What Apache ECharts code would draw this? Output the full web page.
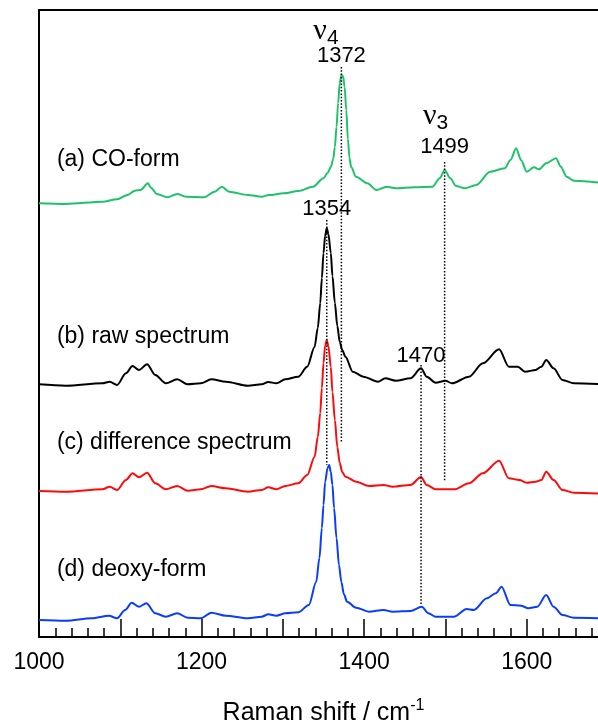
<!DOCTYPE html>
<html>
<head>
<meta charset="utf-8">
<script src="https://cdn.jsdelivr.net/npm/echarts/dist/echarts.min.js"></script>
<style>
  html, body { margin: 0; padding: 0; background: #fff; }
  #chart { width: 598px; height: 727px; }
</style>
</head>
<body>
<div id="chart"></div>
<script>
// Raman shift (cm-1) and relative intensity of each spectrum
const coX = [1000, 1033, 1078, 1096, 1109, 1118, 1125, 1134, 1138, 1145, 1158, 1170, 1181, 1203, 1216, 1225, 1234, 1257, 1274, 1283, 1301, 1319, 1337, 1350, 1355, 1359, 1362, 1364, 1366, 1368, 1370, 1372, 1374, 1376, 1378, 1380, 1382, 1384, 1390, 1404, 1415, 1428, 1439, 1462, 1484, 1493, 1499, 1506, 1513, 1524, 1538, 1555, 1573, 1580, 1587, 1593, 1600, 1609, 1615, 1624, 1636, 1642, 1649, 1658, 1700];
const coI = [1.7, 1, 3.3, 5.7, 10, 14.3, 15, 21.7, 17, 11, 7.7, 11, 8.3, 7.7, 13.3, 18.3, 13.3, 10, 8.3, 10, 11.7, 14, 18.3, 26.7, 32, 38, 46, 58, 78, 102, 122, 130, 129, 118, 95, 66, 47, 38, 28.3, 21.7, 15, 18.3, 16.7, 17.7, 18.3, 26.7, 35, 26.7, 19, 16.7, 20, 33.3, 36.7, 45, 56.7, 45, 33.3, 37.7, 35.7, 41.7, 46.7, 38.3, 28.3, 24.3, 21.5];

const rawX = [1000, 1033, 1078, 1087, 1096, 1107, 1115, 1123, 1133, 1143, 1156, 1170, 1183, 1199, 1212, 1230, 1257, 1274, 1282, 1292, 1303, 1319, 1330, 1339, 1343, 1346, 1348, 1350, 1352, 1354, 1356, 1359, 1361, 1364, 1367, 1370, 1373, 1377, 1386, 1399, 1417, 1426, 1439, 1457, 1470, 1477, 1488, 1500, 1508, 1529, 1546, 1566, 1578, 1589, 1598, 1611, 1618, 1624, 1633, 1644, 1658, 1700];
const rawI = [1.7, 0.3, 2.7, 4.3, 1, 12.7, 20, 16, 21.7, 11, 2.7, 6.7, 1.7, 2.7, 6.7, 4.3, 0.3, 1.7, 4, 2.7, 6.7, 9.3, 19.3, 39, 58, 83, 108, 133, 150, 158, 152, 133, 110, 83, 60, 44, 36, 29.3, 14.3, 9.3, 4.3, 7.7, 5.3, 7.7, 17.7, 9.3, 3.3, 5.3, 2.7, 9.3, 22.7, 36.7, 19.3, 19.3, 14.3, 16, 19.3, 26, 17.7, 6, 2.7, 1.5];

const diffX = [1000, 1033, 1078, 1087, 1096, 1107, 1115, 1123, 1133, 1143, 1156, 1170, 1183, 1199, 1212, 1230, 1257, 1274, 1282, 1292, 1303, 1319, 1330, 1339, 1343, 1346, 1348, 1350, 1352, 1354, 1356, 1359, 1361, 1364, 1367, 1370, 1373, 1377, 1390, 1406, 1424, 1435, 1457, 1470, 1477, 1488, 1511, 1529, 1546, 1566, 1578, 1591, 1600, 1611, 1618, 1624, 1633, 1644, 1658, 1700];
const diffI = [1, 0.3, 2.7, 5.3, 2, 12, 18.7, 14.7, 19.3, 8.7, 2.7, 6, 1.3, 2.7, 6, 3.7, 0.3, 2, 4.7, 2.7, 6, 8.7, 17, 35, 55, 79, 104, 129, 146, 152, 146, 125, 100, 72, 45, 29, 20, 15.3, 10.3, 6, 7, 5.3, 7, 15, 7, 2.7, 2.7, 8.7, 18.7, 31.3, 13.7, 12, 9.3, 10.3, 12, 20.3, 12, 2, -0.7, -2];

const deoxyX = [1000, 1033, 1065, 1086, 1096, 1106, 1114, 1123, 1132, 1143, 1156, 1170, 1183, 1199, 1212, 1230, 1257, 1274, 1282, 1292, 1303, 1319, 1332, 1341, 1345, 1348, 1350, 1352, 1355, 1357, 1359, 1361, 1363, 1366, 1369, 1372, 1375, 1379, 1390, 1406, 1424, 1435, 1457, 1471, 1479, 1488, 1511, 1526, 1535, 1551, 1562, 1569, 1580, 1593, 1602, 1613, 1624, 1633, 1644, 1658, 1700];
const deoxyI = [0, -0.7, 1.7, 4.3, 1.7, 10, 17.3, 13.3, 16.7, 6.7, 3.3, 6.7, 2.3, 1.7, 7.3, 4.3, 1.7, 3.3, 5.7, 4.3, 6.7, 7.7, 15, 38, 62, 92, 115, 138, 152, 155, 148, 135, 112, 82, 55, 38, 26, 18.3, 12.3, 8.3, 10, 8.3, 9, 13.3, 6.7, 3.3, 3.3, 11, 10, 21.7, 26.7, 33.3, 15, 14.3, 11.7, 13.3, 25, 13.3, 5, 2.3, 1.5];

const spectrumNames = ['(a) CO-form', '(b) raw spectrum', '(c) difference spectrum', '(d) deoxy-form'];
const bandPositions = [1372, 1499, 1354, 1470];
const bandModes = [{ band: 1372, mode: '4' }, { band: 1499, mode: '3' }];
const xTickLabels = [1000, 1200, 1400, 1600];

// ---- layout of the stacked plot ----
const spectraX = [coX, rawX, diffX, deoxyX];
const spectraI = [coI, rawI, diffI, deoxyI];
const colors = ['#1ec26a', '#000000', '#ff0a0a', '#0a3cff'];
const baselineOffsets = [432, 251, 145, 17];
const nameAnchorsY = [477, 300, 194, 67];
const nameAnchorX = 1022;
// dotted guide for each band: [top, bottom, label height]
const guideSpans = [[570, 194, 581], [475, 155, 490], [417, 172, 428], [272, 32, 281]];
const modeLabelY = { 1372: 606, 1499: 521 };
const modeLabelX = { 1372: 1353, 1499: 1488 };

const font = 'Liberation Sans, Arial, sans-serif';
const ink = '#000';
const series = [];

spectraX.forEach((xs, k) => {
  series.push({
    type: 'line',
    data: xs.map((x, i) => [x, baselineOffsets[k] + spectraI[k][i]]),
    showSymbol: false,
    smooth: 0.3,
    smoothMonotone: 'x',
    lineStyle: { color: colors[k], width: 2 },
    z: 3,
    silent: true
  });
});

bandPositions.forEach((b, k) => {
  const span = guideSpans[k];
  series.push({
    type: 'line',
    data: [[b, span[0]], [b, span[1]]],
    showSymbol: false,
    lineStyle: { color: '#000', width: 1.5, type: [1.5, 1.8] },
    z: 5,
    silent: true
  });
  series.push({
    type: 'scatter',
    data: [[b, span[2]]],
    symbolSize: 0,
    itemStyle: { opacity: 1 },
    label: {
      show: true, position: 'inside', formatter: String(b),
      fontSize: 22, fontFamily: font, color: ink
    },
    z: 6,
    silent: true
  });
});

bandModes.forEach(m => {
  series.push({
    type: 'scatter',
    data: [[modeLabelX[m.band], modeLabelY[m.band]]],
    symbolSize: 0,
    itemStyle: { opacity: 1 },
    label: {
      show: true, position: 'inside',
      formatter: '{n|\u03BD}{s|' + m.mode + '}',
      rich: {
        n: { fontSize: 30, fontFamily: 'Liberation Serif, Times New Roman, serif', color: ink },
        s: { fontSize: 21, fontFamily: font, color: ink, padding: [14, 0, 0, 0] }
      }
    },
    z: 6,
    silent: true
  });
});

series.push({
  type: 'scatter',
  data: nameAnchorsY.map(y => [nameAnchorX, y]),
  symbolSize: 0,
  itemStyle: { opacity: 1 },
  label: {
    show: true, position: 'inside', align: 'left', verticalAlign: 'middle',
    formatter: p => spectrumNames[p.dataIndex],
    fontSize: 23, fontFamily: font, color: ink
  },
  z: 6,
  silent: true
});

const chart = echarts.init(document.getElementById('chart'), null, { renderer: 'canvas' });
chart.setOption({
  animation: false,
  backgroundColor: '#fff',
  grid: {
    left: 39, top: 10, width: 569, height: 627,
    outerBoundsMode: 'none',
    containLabel: false,
    show: false
  },
  xAxis: [{
    type: 'value', min: 1000, max: 1700, interval: 100,
    axisLine: { show: true, lineStyle: { color: '#000', width: 2 } },
    axisTick: { show: true, inside: true, length: 18, lineStyle: { color: '#000', width: 1.5 } },
    minorTick: { show: true, splitNumber: 5, length: 9, lineStyle: { color: '#000', width: 1.5 } },
    splitLine: { show: false },
    axisLabel: {
      margin: 14, fontSize: 23, fontFamily: font, color: ink,
      formatter: v => xTickLabels.indexOf(v) >= 0 ? String(v) : ''
    },
    name: 'Raman shift / cm{sup|-1}',
    nameLocation: 'middle',
    nameGap: 61,
    nameTextStyle: {
      fontSize: 25, fontFamily: font, color: ink,
      rich: { sup: { fontSize: 16, fontFamily: font, color: ink, padding: [0, 0, 14, 0] } }
    }
  }, {
    type: 'value', position: 'top', min: 1000, max: 1700,
    axisLine: { show: true, onZero: false, lineStyle: { color: '#000', width: 2 } },
    axisTick: { show: false }, axisLabel: { show: false }, splitLine: { show: false }
  }],
  yAxis: {
    type: 'value', min: 0, max: 627,
    axisLine: { show: true, lineStyle: { color: '#000', width: 2 } },
    axisTick: { show: false },
    axisLabel: { show: false },
    splitLine: { show: false }
  },
  series: series
});
</script>
</body>
</html>
